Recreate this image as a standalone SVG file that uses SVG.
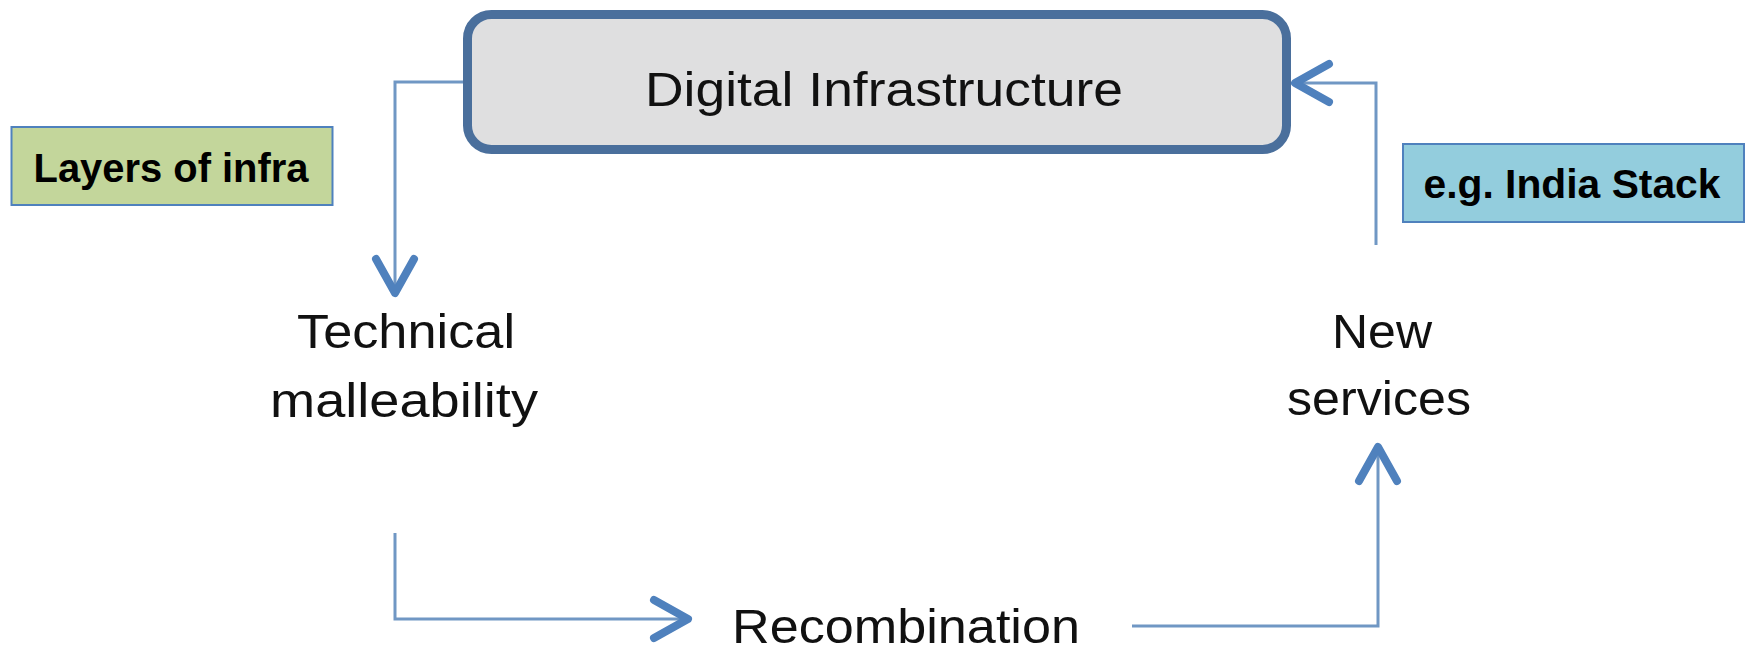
<svg xmlns="http://www.w3.org/2000/svg" width="1752" height="652" viewBox="0 0 1752 652">
  <style>
    .label { font-family: "Liberation Sans", Arial, sans-serif; font-size: 49px; fill: #111111; text-anchor: middle; }
    .note { font-family: "Liberation Sans", Arial, sans-serif; font-weight: bold; font-size: 40px; fill: #000000; text-anchor: middle; }
    .link { fill: none; stroke: #7097C4; stroke-width: 3; }
    .tag { stroke: #4F81BD; stroke-width: 2; }
  </style>
  <defs>
    <marker id="chevron" markerUnits="userSpaceOnUse" markerWidth="60" markerHeight="60" viewBox="-50 -30 60 60" refX="0" refY="0" orient="auto">
      <path d="M -34 -19 L 0 0 L -34 19" fill="none" stroke="#4F81BD" stroke-width="8" stroke-linecap="round" stroke-linejoin="round"/>
    </marker>
  </defs>

  <rect x="0" y="0" width="1752" height="652" fill="#FFFFFF"/>

  <!-- connectors -->
  <g id="connectors">
    <path class="link" d="M 463 82 L 395 82 L 395 293" marker-end="url(#chevron)"/>
    <path class="link" d="M 395 533 L 395 619 L 688 619" marker-end="url(#chevron)"/>
    <path class="link" d="M 1132 626 L 1378 626 L 1378 447" marker-end="url(#chevron)"/>
    <path class="link" d="M 1376 245 L 1376 83 L 1295 83" marker-end="url(#chevron)"/>
  </g>

  <g id="digital-infrastructure">
    <rect x="467.5" y="14.5" width="819" height="135" rx="24" ry="24" fill="#DFDFE0" stroke="#4A6F9C" stroke-width="9"/>
    <text class="label" x="884" y="106" textLength="478" lengthAdjust="spacingAndGlyphs">Digital Infrastructure</text>
  </g>

  <g id="technical-malleability">
    <text class="label" x="406" y="348" textLength="218" lengthAdjust="spacingAndGlyphs">Technical</text>
    <text class="label" x="404" y="417" textLength="268" lengthAdjust="spacingAndGlyphs">malleability</text>
  </g>

  <g id="recombination">
    <text class="label" x="906" y="643" textLength="348" lengthAdjust="spacingAndGlyphs">Recombination</text>
  </g>

  <g id="new-services">
    <text class="label" x="1382" y="348" textLength="100" lengthAdjust="spacingAndGlyphs">New</text>
    <text class="label" x="1379" y="415" textLength="184" lengthAdjust="spacingAndGlyphs">services</text>
  </g>

  <g id="layers-of-infra">
    <rect class="tag" x="11.5" y="127" width="321" height="78" fill="#C3D69B"/>
    <text class="note" x="171" y="182" textLength="275" lengthAdjust="spacingAndGlyphs">Layers of infra</text>
  </g>

  <g id="india-stack">
    <rect class="tag" x="1403" y="144" width="341" height="78" fill="#93CDDD"/>
    <text class="note" x="1572" y="198" textLength="297" lengthAdjust="spacingAndGlyphs">e.g. India Stack</text>
  </g>
</svg>
